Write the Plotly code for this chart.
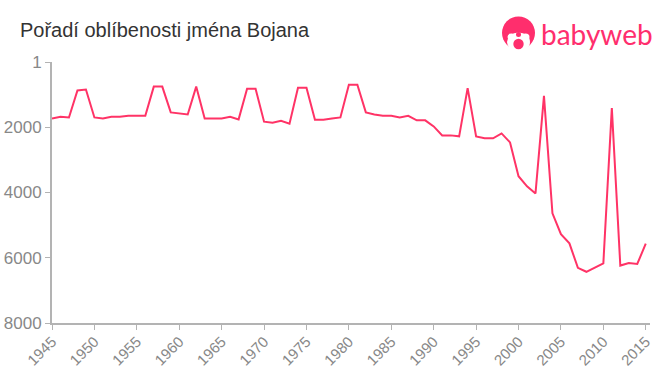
import plotly.graph_objects as go

years = list(range(1945, 2016))
ranks = [1730, 1680, 1700, 875, 845, 1700, 1730, 1680, 1680, 1650,
         1650, 1650, 755, 755, 1545, 1580, 1610, 755, 1730, 1730,
         1730, 1680, 1760, 820, 820, 1830, 1860, 1800, 1890, 790,
         790, 1770, 1770, 1730, 1700, 700, 700, 1545, 1610, 1650,
         1650, 1700, 1650, 1790, 1790, 1975, 2250, 2250, 2280, 800,
         2280, 2340, 2340, 2190, 2465, 3500, 3810, 4030, 1040, 4640,
         5280, 5560, 6310, 6430, 6310, 6170, 1415, 6240, 6160, 6190, 5570]
x_ticks = list(range(1945, 2016, 5))
y_ticks = [1, 2000, 4000, 6000, 8000]
title_text = "Pořadí oblíbenosti jména Bojana"
logo_text = "babyweb"

W, H = 660, 375
L, R, T, B = 52, 10, 62, 52
PINK = "#ff2e6d"

def px(v):
    return (v - L) / (W - L - R)

def py(v):
    return 1 - (v - T) / (H - T - B)

fig = go.Figure(go.Scatter(x=years, y=ranks, mode="lines",
                           line=dict(color="#ff3366", width=2), hoverinfo="skip"))

axis_common = dict(showgrid=False, zeroline=False, showline=True, linecolor="#b3b3b3",
                   linewidth=2, ticks="outside", tickcolor="#b3b3b3", tickwidth=1,
                   automargin=False)

fig.update_xaxes(range=[1945, 2015.5], tickmode="array", tickvals=x_ticks,
                 ticktext=[str(t) for t in x_ticks], tickangle=-45, ticklen=5,
                 ticklabelstandoff=-3,
                 tickfont=dict(family="Liberation Sans", size=15, color="#888888"),
                 **axis_common)
fig.update_yaxes(range=[8000, 1], tickmode="array", tickvals=y_ticks,
                 ticktext=[str(t) for t in y_ticks], ticklen=5,
                 tickfont=dict(family="Liberation Sans", size=17, color="#888888"),
                 **axis_common)

def circle(cx, cy, rx, ry, color):
    return dict(type="circle", xref="paper", yref="paper", layer="above",
                x0=px(cx - rx), x1=px(cx + rx), y0=py(cy - ry), y1=py(cy + ry),
                fillcolor=color, line=dict(width=0))

shapes = [
    circle(518.5, 33, 16.5, 16.5, PINK),
    circle(518.5, 42, 11.5, 9.5, "white"),
    circle(511.5, 37, 4, 3.5, "white"),
    circle(525.5, 37, 4, 3.5, "white"),
    circle(518.5, 34.5, 2.5, 2.5, PINK),
    circle(518.5, 44, 6.5, 6.5, "white"),
    circle(518.5, 44, 5.2, 5.2, PINK),
]

fig.update_layout(
    width=W, height=H, autosize=False,
    margin=dict(l=L, r=R, t=T, b=B),
    paper_bgcolor="white", plot_bgcolor="white", showlegend=False,
    title=dict(text=title_text, x=20 / W, xanchor="left", xref="container", y=1 - 30 / H,
               yref="container", yanchor="middle",
               font=dict(family="Liberation Sans", size=20, color="#333333")),
    shapes=shapes,
    annotations=[dict(text=logo_text, xref="paper", yref="paper", x=px(596.5), y=py(34),
                      xanchor="center", yanchor="middle", showarrow=False,
                      font=dict(family="Lato", size=28, color=PINK))],
)

fig.write_html("out.html", config=dict(displayModeBar=False),
               post_script="document.body.style.margin='0';document.body.style.overflow='hidden';")
